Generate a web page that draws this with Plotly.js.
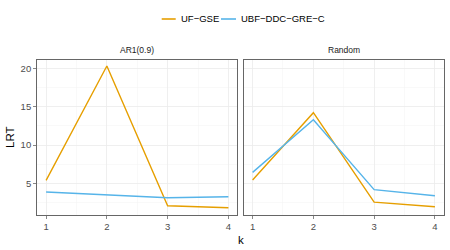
<!DOCTYPE html>
<html>
<head>
<meta charset="utf-8">
<script src="https://cdn.plot.ly/plotly-3.0.1.min.js"></script>
<style>html,body{margin:0;padding:0;background:#fff}#chart{width:450px;height:250px}</style>
</head>
<body>
<div id="chart"></div>
<script>
const k = [1, 2, 3, 4];
const panels = ["AR1(0.9)", "Random"];
const seriesNames = ["UF\u2212GSE", "UBF\u2212DDC\u2212GRE\u2212C"];
const ar1_UF = [5.4, 20.3, 2.1, 1.85];
const ar1_UBF = [3.9, 3.55, 3.15, 3.27];
const rnd_UF = [5.45, 14.22, 2.58, 1.98];
const rnd_UBF = [6.45, 13.3, 4.2, 3.4];
const colors = ["#E69F00", "#56B4E9"];

const traces = [
  {x: k, y: ar1_UF, name: seriesNames[0], xaxis: 'x', yaxis: 'y', line: {color: colors[0]}},
  {x: k, y: ar1_UBF, name: seriesNames[1], xaxis: 'x', yaxis: 'y', line: {color: colors[1]}},
  {x: k, y: rnd_UF, name: seriesNames[0], xaxis: 'x2', yaxis: 'y2', line: {color: colors[0]}},
  {x: k, y: rnd_UBF, name: seriesNames[1], xaxis: 'x2', yaxis: 'y2', line: {color: colors[1]}}
].map(t => Object.assign(t, {type: 'scatter', mode: 'lines', showlegend: false, line: Object.assign(t.line, {width: 1.4})}));

const font = {family: 'Liberation Sans, Arial, sans-serif', size: 9.5, color: '#4d4d4d'};
function xax(domain) {
  return {domain: domain, range: [0.85, 4.15], tickvals: k, ticktext: k.map(String),
    showgrid: true, gridcolor: '#ebebeb', gridwidth: 0.8,
    minor: {tickvals: [1.5, 2.5, 3.5], showgrid: true, gridcolor: '#f3f3f3', gridwidth: 0.5},
    ticks: 'outside', ticklen: 3, tickcolor: '#555', tickwidth: 0.7,
    showline: true, mirror: true, linecolor: '#555', linewidth: 0.9,
    zeroline: false, tickfont: font, fixedrange: true};
}
function yax(anchor, showLabels) {
  return {domain: [0.14, 0.762], range: [0.9, 21.15], tickvals: [5, 10, 15, 20],
    showticklabels: showLabels, anchor: anchor,
    showgrid: true, gridcolor: '#ebebeb', gridwidth: 0.8,
    minor: {tickvals: [2.5, 7.5, 12.5, 17.5], showgrid: true, gridcolor: '#f3f3f3', gridwidth: 0.5},
    ticks: showLabels ? 'outside' : '', ticklen: 3, tickcolor: '#555', tickwidth: 0.7,
    showline: true, mirror: true, linecolor: '#555', linewidth: 0.9,
    zeroline: false, tickfont: font, fixedrange: true};
}

const layout = {
  width: 450, height: 250,
  margin: {l: 0, r: 0, t: 0, b: 0},
  paper_bgcolor: '#fff', plot_bgcolor: '#fff',
  showlegend: false,
  xaxis: xax([0.0822, 0.5278]),
  yaxis: yax('x', true),
  xaxis2: Object.assign(xax([0.5411, 0.9867]), {anchor: 'y2'}),
  yaxis2: yax('x2', false),
  shapes: [
    {type: 'line', xref: 'paper', yref: 'paper', x0: 161.7/450, x1: 175.7/450, y0: 1 - 19/250, y1: 1 - 19/250, line: {color: colors[0], width: 1.6}},
    {type: 'line', xref: 'paper', yref: 'paper', x0: 221/450, x1: 236/450, y0: 1 - 19/250, y1: 1 - 19/250, line: {color: colors[1], width: 1.6}}
  ],
  annotations: [
    {text: seriesNames[0], xref: 'paper', yref: 'paper', x: 178.5/450, y: 1 - 19/250, xanchor: 'left', yanchor: 'middle', showarrow: false, font: {family: font.family, size: 9.5, color: '#000'}},
    {text: seriesNames[1], xref: 'paper', yref: 'paper', x: 238.5/450, y: 1 - 19/250, xanchor: 'left', yanchor: 'middle', showarrow: false, font: {family: font.family, size: 9.5, color: '#000'}},
    {text: panels[0], xref: 'paper', yref: 'paper', x: 137.3/450, y: 1 - 50/250, xanchor: 'center', yanchor: 'middle', showarrow: false, font: {family: font.family, size: 8.5, color: '#1a1a1a'}},
    {text: panels[1], xref: 'paper', yref: 'paper', x: 343.8/450, y: 1 - 50/250, xanchor: 'center', yanchor: 'middle', showarrow: false, font: {family: font.family, size: 8.5, color: '#1a1a1a'}},
    {text: 'LRT', xref: 'paper', yref: 'paper', x: 10/450, y: 1 - 137/250, xanchor: 'center', yanchor: 'middle', textangle: -90, showarrow: false, font: {family: font.family, size: 11.5, color: '#000'}},
    {text: 'k', xref: 'paper', yref: 'paper', x: 240.5/450, y: 1 - 240/250, xanchor: 'center', yanchor: 'middle', showarrow: false, font: {family: font.family, size: 11.5, color: '#000'}}
  ]
};

Plotly.newPlot('chart', traces, layout, {staticPlot: true, displayModeBar: false});
</script>
</body>
</html>
